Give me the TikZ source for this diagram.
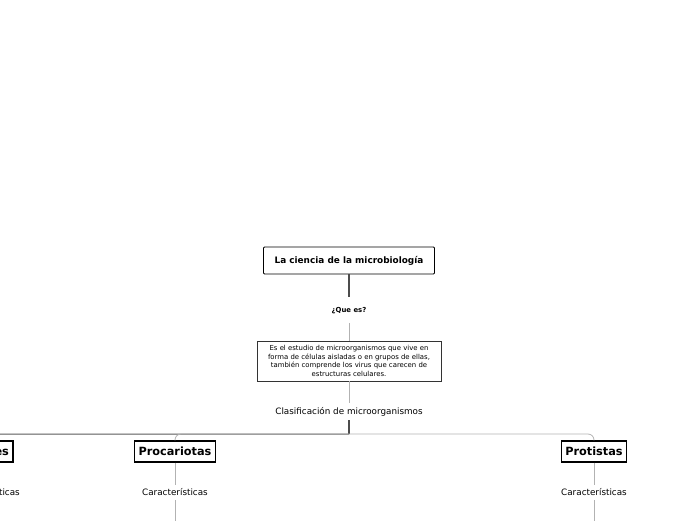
\documentclass[tikz,border=0pt]{standalone}
\usepackage{fontspec}
\setmainfont{DejaVu Sans}
\usetikzlibrary{positioning, calc}

\begin{document}
\begin{tikzpicture}[
      x=1pt, y=-1pt,
      root/.style={rectangle, draw, thick, rounded corners=1pt, minimum width=171pt, minimum height=27pt, font=\fontsize{8.9}{10}\selectfont\bfseries},
      desc/.style={rectangle, draw=black!80, line width=0.6pt, minimum width=184pt, minimum height=40pt, inner sep=2pt, align=center, font=\fontsize{6.9}{8.4}\selectfont},
      topic/.style={rectangle, draw, line width=1.2pt, minimum height=21pt, inner xsep=4pt, font=\fontsize{11.3}{12}\selectfont\bfseries},
      lbl/.style={inner sep=1pt, font=\fontsize{8.8}{10}\selectfont},
      darkline/.style={draw=black!70, line width=1.3pt},
      softline/.style={draw=black!30, line width=0.8pt}
    ]
    \useasboundingbox (0,0) rectangle (696,520);

    \node[root] (ciencia) at (349,260.5) {La ciencia de la microbiología};
    \node[inner sep=1pt, font=\fontsize{6.9}{8}\selectfont\bfseries] (quees) at (349,310.5) {¿Que es?};
    \node[desc] (estudio) at (349,361) {Es el estudio de microorganismos que vive en\\forma de células aisladas o en grupos de ellas,\\también comprende los virus que carecen de\\estructuras celulares.};
    \node[lbl] (clasif) at (349,411.5) {Clasificación de microorganismos};
    \coordinate (hub) at (349,434);

    \node[topic] (virales) at (-13,451.5) {Virales};
    \node[topic] (proc) at (175,451.5) {Procariotas};
    \node[topic] (prot) at (594,451.5) {Protistas};

    \node[lbl] (carvir) at (-13,492) {Características};
    \node[lbl] (carproc) at (175,492) {Características};
    \node[lbl] (carprot) at (594,492) {Características};

    \draw[darkline] (ciencia) -- ($(quees.north)+(0,-9)$);
    \draw[softline] ($(quees.south)+(0,8)$) -- (estudio);
    \draw[softline] (estudio) -- ($(clasif.north)+(0,-3)$);
    \draw[darkline] ($(clasif.south)+(0,3)$) -- (hub);

    % ramas
    \draw[darkline, line width=1pt, draw=black!65, rounded corners=6pt] (hub) -| (virales.north);
    \draw[softline, rounded corners=6pt] (hub) -| (proc.north);
    \draw[softline, rounded corners=6pt] (hub) -| (prot.north);

    \foreach \t/\c in {virales/carvir, proc/carproc, prot/carprot}{
      \draw[softline] (\t) -- ($(\c.north)+(0,-2)$);
      \draw[softline] ($(\c.south)+(0,3)$) -- +(0,30);
    }
  \end{tikzpicture}
\end{document}
